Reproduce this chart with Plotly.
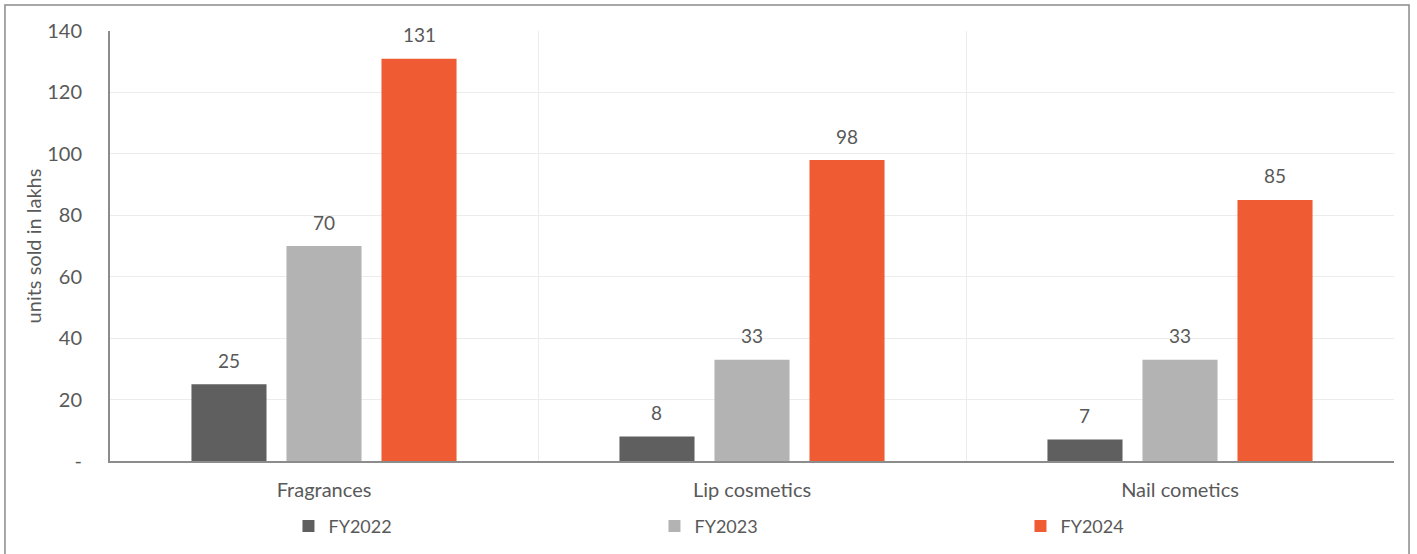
import plotly.graph_objects as go

# Units sold (lakhs) per product category and fiscal year
categories = ["Fragrances", "Lip cosmetics", "Nail cometics"]
fy2022 = [25, 8, 7]
fy2023 = [70, 33, 33]
fy2024 = [131, 98, 85]

series_names = ["FY2022", "FY2023", "FY2024"]
series_colors = ["#5f5f5f", "#b3b3b3", "#ef5b33"]

y_tickvals = [0, 20, 40, 60, 80, 100, 120, 140]
y_ticktext = ["-", "20", "40", "60", "80", "100", "120", "140"]

FONT = "Lato, 'Open Sans', sans-serif"
TEXT_COLOR = "#595959"
BARGAP = 0.334
BARGROUPGAP = 0.21

series_values = [fy2022, fy2023, fy2024]

fig = go.Figure()
for name, values, color in zip(series_names, series_values, series_colors):
    fig.add_trace(go.Bar(
        name=name,
        x=categories,
        y=values,
        marker=dict(color=color, line=dict(width=0)),
        cliponaxis=False,
    ))

# Value labels floated above each bar (group slot width in category units)
slot = (1 - BARGAP) / len(series_values)
for k, values in enumerate(series_values):
    offset = (k - (len(series_values) - 1) / 2) * slot
    for i, v in enumerate(values):
        fig.add_annotation(
            x=i + offset, y=v, xref="x", yref="y",
            text=str(v), showarrow=False,
            yanchor="middle", yshift=24,
            font=dict(family=FONT, size=19, color=TEXT_COLOR),
        )

fig.update_layout(
    width=1417,
    height=554,
    margin=dict(l=110, r=23, t=31, b=93),
    paper_bgcolor="white",
    plot_bgcolor="white",
    barmode="group",
    bargap=BARGAP,
    bargroupgap=BARGROUPGAP,
    font=dict(family=FONT, size=19, color=TEXT_COLOR),
    showlegend=True,
    legend=dict(
        orientation="h",
        x=0.139,
        xanchor="left",
        yref="container",
        y=0.05,
        yanchor="middle",
        entrywidth=321,
        entrywidthmode="pixels",
        font=dict(family=FONT, size=18, color=TEXT_COLOR),
        itemclick=False,
        traceorder="normal",
    ),
)

fig.update_xaxes(
    type="category",
    tickson="boundaries",
    showgrid=True,
    gridcolor="#ececec",
    gridwidth=1,
    showline=True,
    linecolor="#8c8c8c",
    linewidth=2,
    ticks="",
    ticklen=0,
    ticklabelstandoff=10,
    automargin=False,
    tickfont=dict(family=FONT, size=20, color=TEXT_COLOR),
)

fig.update_yaxes(
    range=[0, 140],
    tickvals=y_tickvals,
    ticktext=y_ticktext,
    showgrid=True,
    gridcolor="#ececec",
    gridwidth=1,
    zeroline=False,
    showline=True,
    linecolor="#8c8c8c",
    linewidth=2,
    ticks="",
    ticklabelstandoff=22,
    automargin=True,
    tickfont=dict(family=FONT, size=20, color=TEXT_COLOR),
    title=dict(text="units sold in lakhs", font=dict(family=FONT, size=20, color=TEXT_COLOR), standoff=0),
)

# Outer chart frame
fig.add_shape(
    type="rect",
    xref="paper", yref="paper",
    x0=-0.0818, x1=1.0117, y0=-0.3, y1=1.0605,
    line=dict(color="#8a8a8a", width=1.5),
    fillcolor="rgba(0,0,0,0)",
    layer="below",
)

fig.write_html("out.html")
